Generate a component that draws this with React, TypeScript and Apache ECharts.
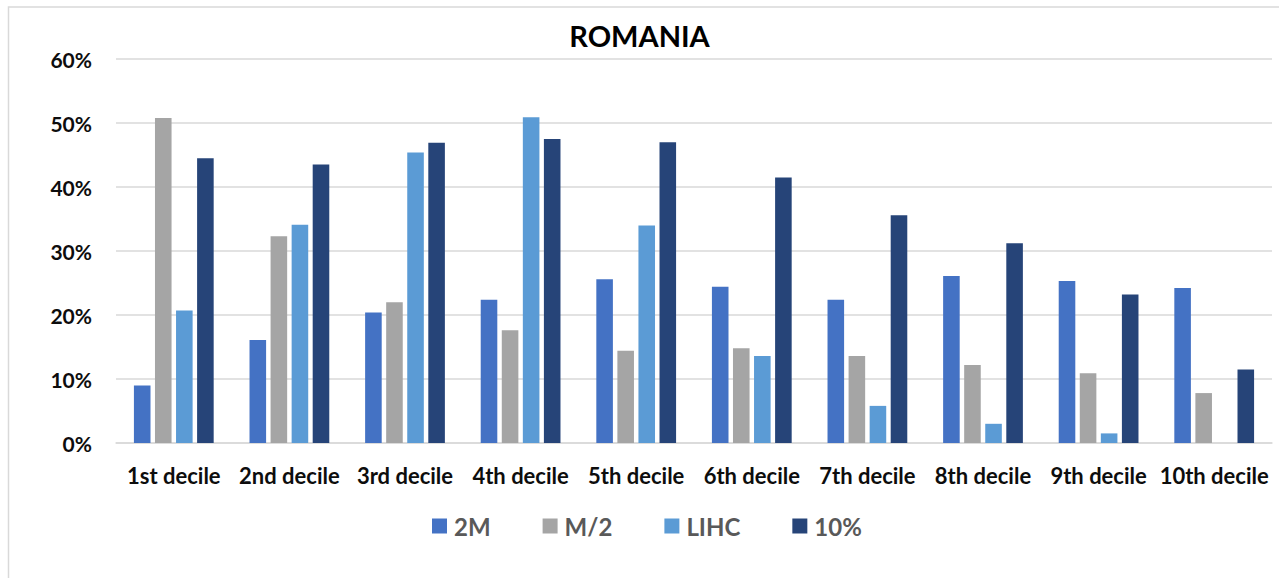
import React, { useEffect, useRef } from "react";
import * as echarts from "echarts";

const title = "ROMANIA";
const categories = [
  "1st decile", "2nd decile", "3rd decile", "4th decile", "5th decile",
  "6th decile", "7th decile", "8th decile", "9th decile", "10th decile",
];
const seriesNames = ["2M", "M/2", "LIHC", "10%"];
const s2M = [9.0, 16.1, 20.4, 22.4, 25.6, 24.4, 22.4, 26.1, 25.3, 24.2];
const sHalfM = [50.8, 32.3, 22.0, 17.6, 14.4, 14.8, 13.6, 12.2, 10.9, 7.8];
const sLIHC = [20.7, 34.1, 45.4, 50.9, 34.0, 13.6, 5.8, 3.0, 1.5, 0];
const s10 = [44.5, 43.5, 46.9, 47.5, 47.0, 41.5, 35.6, 31.2, 23.2, 11.5];
const colors = ["#4472C4", "#A5A5A5", "#5B9BD5", "#264478"];
const yTicks = { min: 0, max: 60, interval: 10 };

const FONT = "Lato, 'Open Sans', sans-serif";

export default function App() {
  const ref = useRef<HTMLDivElement>(null);
  useEffect(() => {
    if (!ref.current) return;
    const chart = echarts.init(ref.current, null, { renderer: "svg" });
    const data = [s2M, sHalfM, sLIHC, s10];
    chart.setOption({
      animation: false,
      backgroundColor: "#ffffff",
      textStyle: { fontFamily: FONT },
      color: colors,
      title: {
        text: title,
        left: "center",
        top: 16,
        textStyle: { fontFamily: FONT, fontSize: 29, fontWeight: "bold", color: "#000" },
      },
      graphic: [
        {
          type: "rect",
          shape: { x: 8.5, y: 7, width: 1320, height: 620 },
          style: { fill: "none", stroke: "#d9d9d9", lineWidth: 1.5 },
          silent: true,
        },
      ],
      legend: {
        data: seriesNames,
        left: 427,
        top: 509,
        itemWidth: 15,
        itemHeight: 15,
        itemGap: 52,
        icon: "rect",
        textStyle: {
          fontFamily: FONT,
          fontSize: 24,
          fontWeight: "bold",
          color: "#595959",
          padding: [0, 0, 0, 2],
        },
      },
      grid: { left: 116, right: 7, top: 59, bottom: 135, containLabel: false },
      xAxis: {
        type: "category",
        data: categories,
        axisLine: { show: true, lineStyle: { color: "#d9d9d9", width: 1.5 } },
        axisTick: { show: false },
        axisLabel: {
          fontFamily: FONT,
          fontSize: 22,
          fontWeight: "bold",
          color: "#0d0d0d",
          margin: 21,
          interval: 0,
        },
      },
      yAxis: {
        type: "value",
        min: yTicks.min,
        max: yTicks.max,
        interval: yTicks.interval,
        axisLine: { show: false },
        axisTick: { show: false },
        splitLine: { lineStyle: { color: "#d9d9d9", width: 1.5 } },
        axisLabel: {
          fontFamily: FONT,
          fontSize: 21,
          fontWeight: "bold",
          color: "#0d0d0d",
          margin: 24,
          formatter: (v: number) => `${v}%`,
        },
      },
      series: seriesNames.map((name, i) => ({
        name,
        type: "bar",
        data: data[i],
        barGap: "27%",
        barCategoryGap: "31%",
        itemStyle: { color: colors[i] },
      })),
    });
    return () => chart.dispose();
  }, []);
  return (
    <div
      ref={ref}
      style={{ position: "absolute", left: 0, top: 0, width: 1279, height: 578 }}
    />
  );
}
